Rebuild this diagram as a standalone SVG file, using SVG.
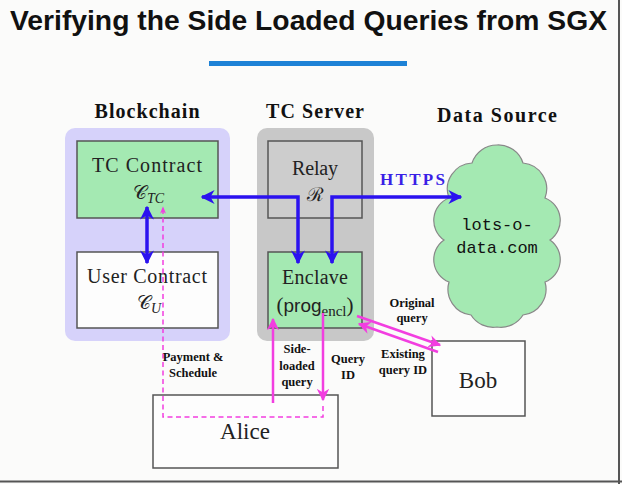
<svg xmlns="http://www.w3.org/2000/svg" width="622" height="484" viewBox="0 0 622 484">
<style>
.hdr{font-family:"Liberation Serif",serif;font-weight:bold;font-size:20px;fill:#111;text-anchor:middle}
.lbl{font-family:"Liberation Serif",serif;font-size:20px;fill:#222;text-anchor:middle}
.big{font-family:"Liberation Serif",serif;font-size:23px;fill:#222;text-anchor:middle}
.math{font-family:"DejaVu Serif","Liberation Serif",serif;font-size:19px;fill:#222}
.sub{font-family:"Liberation Serif",serif;font-style:italic;font-size:14px}
.sm{font-family:"Liberation Serif",serif;font-weight:bold;font-size:12.5px;fill:#111;text-anchor:middle}
.mono{font-family:"Liberation Mono",monospace;font-size:17px;fill:#111;text-anchor:middle}
.box{stroke:#555;stroke-width:1.5}
.blue{fill:none;stroke:#2b12ef;stroke-width:3.5}
.pink{fill:none;stroke:#f23ee0;stroke-width:2.5}
</style>
<defs>
<marker id="ab" viewBox="0 0 10 10" refX="9" refY="5" markerWidth="4" markerHeight="4" orient="auto-start-reverse" markerUnits="strokeWidth">
<path d="M0,0 L10,5 L0,10 L3,5 z" fill="#2b12ef"/>
</marker>
<marker id="ap" viewBox="0 0 10 10" refX="9" refY="5" markerWidth="5" markerHeight="5" orient="auto-start-reverse" markerUnits="strokeWidth">
<path d="M0,0 L10,5 L0,10 L3,5 z" fill="#f23ee0"/>
</marker>
<marker id="apd" viewBox="0 0 10 10" refX="9" refY="5" markerWidth="5" markerHeight="5" orient="auto" markerUnits="strokeWidth">
<path d="M0,1 L10,5 L0,9 L3,5 z" fill="#f23ee0"/>
</marker>
</defs>
<rect x="0" y="0" width="622" height="484" fill="#fbfbfa"/>
<line x1="619" y1="0" x2="619" y2="484" stroke="#555" stroke-width="2"/>
<line x1="0" y1="481.5" x2="622" y2="481.5" stroke="#555" stroke-width="2"/>
<text x="10" y="30" font-family="Liberation Sans,sans-serif" font-weight="bold" font-size="27" fill="#111" textLength="597" lengthAdjust="spacingAndGlyphs">Verifying the Side Loaded Queries from SGX</text>
<rect x="209" y="61" width="198" height="5" fill="#1e82d6"/>

<g id="blockchain">
<rect x="65" y="128" width="165" height="213" rx="10" fill="#d6d2fa"/>
<text class="hdr" x="147" y="118" textLength="105">Blockchain</text>
</g>
<g id="tcserver">
<rect x="257" y="128" width="117" height="213" rx="10" fill="#c8c8c8"/>
<text class="hdr" x="315" y="118" textLength="98">TC Server</text>
</g>
<g id="datasource-label">
<text class="hdr" x="497" y="122" textLength="120">Data Source</text>
</g>

<g id="tc-contract">
<rect class="box" x="77" y="141" width="141" height="77" fill="#a4e9b2"/>
<text class="lbl" x="147" y="172" textLength="110">TC Contract</text>
<text class="math" x="133" y="199">𝒞<tspan class="sub" dy="4">TC</tspan></text>
</g>
<g id="user-contract">
<rect class="box" x="77" y="252" width="141" height="76" fill="#fdfdfd"/>
<text class="lbl" x="147" y="283" textLength="120">User Contract</text>
<text class="math" x="137" y="309">𝒞<tspan class="sub" dy="4">U</tspan></text>
</g>
<g id="relay">
<rect class="box" x="268" y="141" width="94" height="77" fill="#cdcdcd"/>
<text class="lbl" x="315" y="175" textLength="46">Relay</text>
<text class="math" x="315" y="201" text-anchor="middle">ℛ</text>
</g>
<g id="enclave">
<rect class="box" x="268" y="252" width="94" height="76" fill="#a4e9b2"/>
<text class="lbl" x="315" y="284" textLength="66">Enclave</text>
<text x="315" y="312" text-anchor="middle" fill="#222"><tspan font-family="Liberation Serif,serif" font-size="21">(</tspan><tspan font-family="Liberation Sans,sans-serif" font-size="19">prog</tspan><tspan font-family="Liberation Serif,serif" font-size="15" dy="4">encl</tspan><tspan font-family="Liberation Serif,serif" font-size="21" dy="-4">)</tspan></text>
</g>
<g id="cloud">
<path d="M472,163 A26,26 0 0 1 497,145 A26,26 0 0 1 523,163 A26,26 0 0 1 545,198 A24,24 0 0 1 550,240 A24,24 0 0 1 545,282 A26,26 0 0 1 523,315 A26,26 0 0 1 497,327 A26,26 0 0 1 471,315 A26,26 0 0 1 449,282 A24,24 0 0 1 444,240 A24,24 0 0 1 449,198 A26,26 0 0 1 472,163 Z" fill="#a4e9b2" stroke="#888" stroke-width="1.2"/>
<text class="mono" x="497" y="230">lots-o-</text>
<text class="mono" x="497" y="253">data.com</text>
</g>
<g id="alice">
<rect class="box" x="153" y="395" width="185" height="73" fill="#fdfdfd"/>
<text class="big" x="245" y="439">Alice</text>
</g>
<g id="bob">
<rect class="box" x="432" y="341" width="93" height="75" fill="#fdfdfd"/>
<text class="big" x="478" y="388">Bob</text>
</g>

<g id="connectors">
<path class="blue" d="M147,207 L147,263" marker-start="url(#ab)" marker-end="url(#ab)"/>
<path class="blue" d="M202,197 L298,197 L298,263" marker-start="url(#ab)" marker-end="url(#ab)"/>
<path class="blue" d="M461,197 L332,197 L332,263" marker-start="url(#ab)" marker-end="url(#ab)"/>
<text x="380" y="185" font-family="Liberation Serif,serif" font-weight="bold" font-size="17" fill="#3a1fe6" textLength="65">HTTPS</text>
<path d="M323,406 L323,417 L163,417 L163,207" fill="none" stroke="#f23ee0" stroke-width="1.5" stroke-dasharray="5,3.5" marker-end="url(#apd)"/>
<path class="pink" d="M273,403 L273,319" marker-end="url(#ap)"/>
<path class="pink" d="M323,313 L323,400" marker-end="url(#ap)"/>
<path class="pink" d="M357,316 L440,345" marker-end="url(#ap)"/>
<path class="pink" d="M438,352 L359,324" marker-end="url(#ap)"/>
<text class="sm" x="193" y="361">Payment &amp;</text>
<text class="sm" x="193" y="377">Schedule</text>
<text class="sm" x="297" y="353">Side-</text>
<text class="sm" x="297" y="370">loaded</text>
<text class="sm" x="297" y="386">query</text>
<text class="sm" x="348" y="363">Query</text>
<text class="sm" x="348" y="379">ID</text>
<text class="sm" x="412" y="307">Original</text>
<text class="sm" x="412" y="322">query</text>
<text class="sm" x="403" y="358">Existing</text>
<text class="sm" x="403" y="374">query ID</text>
</g>
</svg>
